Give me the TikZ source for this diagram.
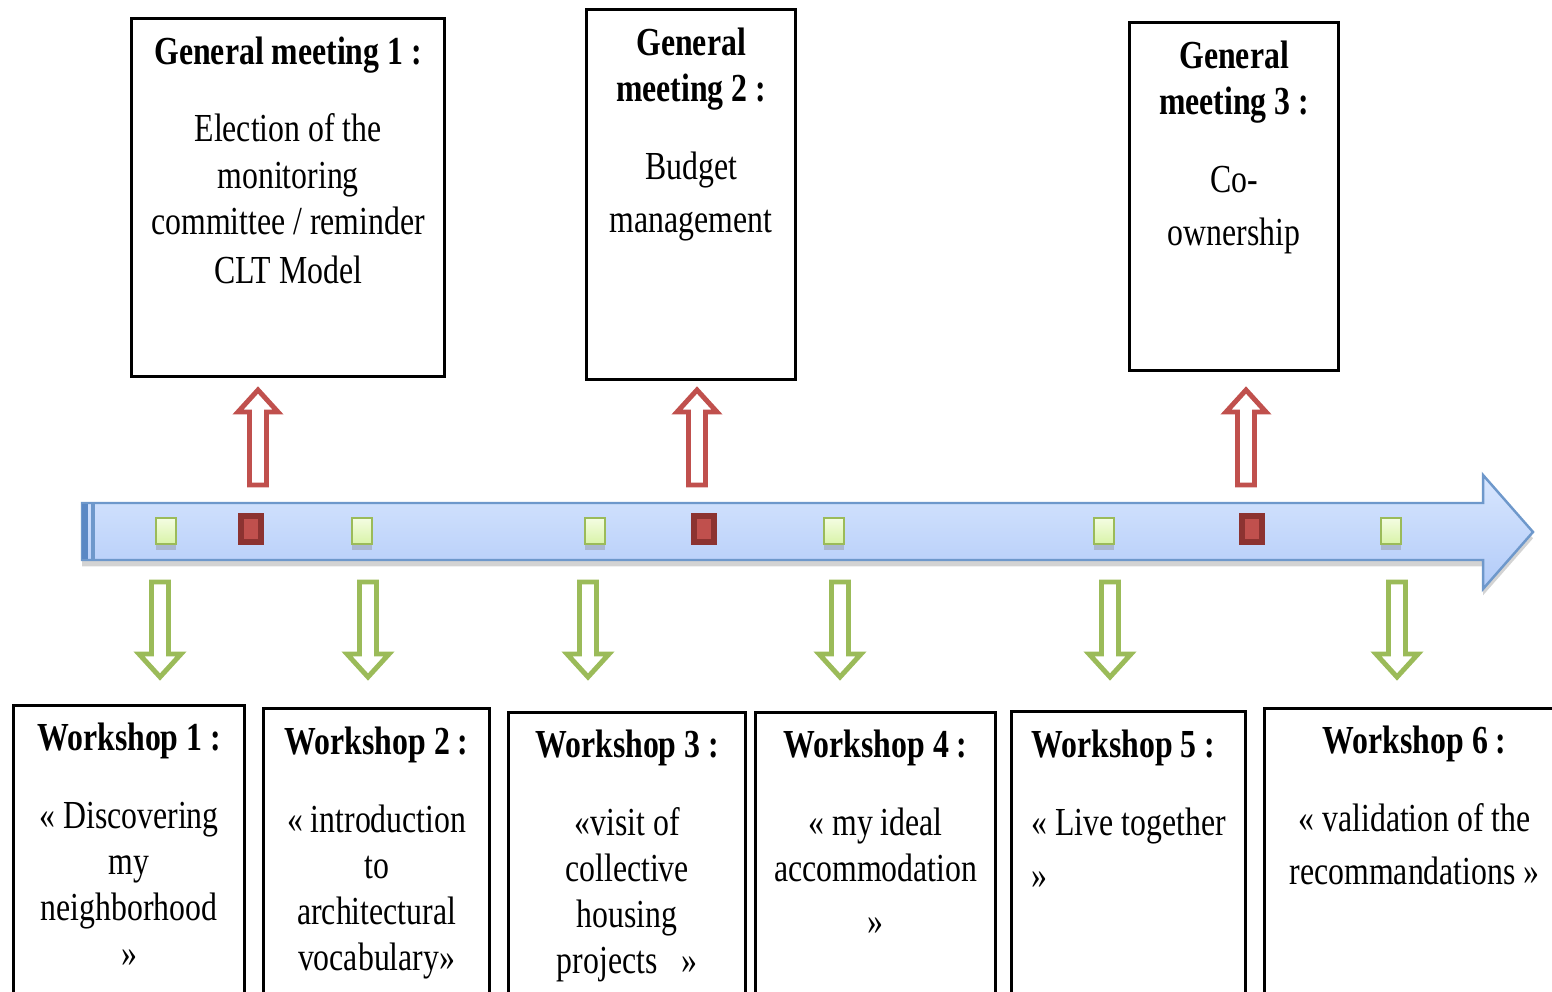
\documentclass[tikz,border=0pt]{standalone}
\usepackage{fontspec}
\setmainfont{Liberation Serif}[FakeStretch=0.8]
\usepackage{xcolor}
\definecolor{cLine}{HTML}{6E98CB}
\definecolor{cLineDark}{HTML}{5A88C4}
\definecolor{cTop}{HTML}{D8E6FE}
\definecolor{cBottom}{HTML}{B2CBF8}
\definecolor{cGM}{HTML}{C0504D}
\definecolor{cGMdark}{HTML}{8C3331}
\definecolor{cWS}{HTML}{9BBB59}
\definecolor{cWStop}{HTML}{F4FDE2}
\definecolor{cWSbot}{HTML}{D9F3A8}
\usepackage{tikz}
\usetikzlibrary{positioning,shadows}
\newcommand\boxfont{\fontsize{11.3pt}{13.1pt}\selectfont}
\tikzset{
  box-frame/.style={draw=black,line width=0.9pt,anchor=north west,inner sep=0pt},
  box-text/.style={align=center,inner sep=0pt,font=\boxfont},
  pin-ws/.style={draw=cWS,line width=0.65pt,top color=cWStop,bottom color=cWSbot,
    minimum width=0.2cm,minimum height=0.26cm,inner sep=0pt,
    drop shadow={shadow xshift=0pt,shadow yshift=-1.6pt,opacity=0.35}},
  pin-gm/.style={draw=cGMdark,line width=1.6pt,fill=cGM,
    minimum width=0.2cm,minimum height=0.26cm,inner sep=0pt},
  hollow-gm/.style={draw=cGM,line width=1.4pt,fill=white},
  hollow-ws/.style={draw=cWS,line width=1.4pt,fill=white},
  timeline/.style={draw=cLine,line width=0.7pt,top color=cTop,bottom color=cBottom,
    drop shadow={shadow xshift=0pt,shadow yshift=-1.8pt,opacity=0.35}},
}

\begin{document}
\begin{tikzpicture}[x=0.01cm,y=-0.01cm]
  \clip (0,0) rectangle (1552,992);

  % timeline
  \draw[timeline] (82,503) -- (1483,503) -- (1483,475) -- (1533,532)
    -- (1483,589) -- (1483,560) -- (82,560) -- cycle;
  \fill[cLineDark] (82,504) rectangle (88,559);
  \fill[cLine] (91,504) rectangle (95,559);

  % markers on the timeline
  \foreach \x [count=\i] in {166,362,595,834,1104,1391}
    \node[pin-ws] (ws-pin\i) at (\x,531) {};
  \foreach \x [count=\i] in {251,704,1252}
    \node[pin-gm] (gm-pin\i) at (\x,529) {};

  % hollow arrows
  \foreach \x in {258,697,1246}
    \draw[hollow-gm] ({\x-8.5},485) -- ({\x-8.5},412) -- ({\x-20},412) -- (\x,390)
      -- ({\x+20},412) -- ({\x+8.5},412) -- ({\x+8.5},485) -- cycle;
  \foreach \x in {160,368,588,840,1110,1397}
    \draw[hollow-ws] ({\x-8.5},582) -- ({\x-8.5},654) -- ({\x-21},654) -- (\x,677)
      -- ({\x+21},654) -- ({\x+8.5},654) -- ({\x+8.5},582) -- cycle;

  % general meetings
  \node[box-frame,minimum width=3.13cm,minimum height=3.58cm] (gm1) at (130,17) {};
  \node[box-text,below=0.19cm of gm1.north] (gm1-txt)
    {\textbf{General meeting 1 :}\\[9pt]Election of the\\monitoring\\committee / reminder\\[1pt]CLT Model};
  \node[box-frame,minimum width=2.09cm,minimum height=3.70cm] (gm2) at (585,8) {};
  \node[box-text,below=0.19cm of gm2.north] (gm2-txt)
    {\textbf{General}\\\textbf{meeting 2 :}\\[9pt]Budget\\[2pt]management};
  \node[box-frame,minimum width=2.09cm,minimum height=3.48cm] (gm3) at (1128,21) {};
  \node[box-text,below=0.19cm of gm3.north] (gm3-txt)
    {\textbf{General}\\\textbf{meeting 3 :}\\[9pt]Co-\\[2pt]ownership};

  % workshops
  \node[box-frame,minimum width=2.31cm,minimum height=3.1cm] (ws1) at (12,704) {};
  \node[box-text,below=0.18cm of ws1.north] (ws1-txt)
    {\textbf{Workshop 1 :}\\[9pt]« Discovering\\my\\neighborhood\\»};
  \node[box-frame,minimum width=2.26cm,minimum height=3.1cm] (ws2) at (262,707) {};
  \node[box-text,below=0.19cm of ws2.north] (ws2-txt)
    {\textbf{Workshop 2 :}\\[9pt]« introduction\\to\\architectural\\vocabulary»};
  \node[box-frame,minimum width=2.37cm,minimum height=3.1cm] (ws3) at (507,711) {};
  \node[box-text,below=0.18cm of ws3.north] (ws3-txt)
    {\textbf{Workshop 3 :}\\[9pt]«visit of\\collective\\housing\\projects\ \ \ »};
  \node[box-frame,minimum width=2.40cm,minimum height=3.1cm] (ws4) at (754,711) {};
  \node[box-text,below=0.18cm of ws4.north] (ws4-txt)
    {\textbf{Workshop 4 :}\\[9pt]« my ideal\\accommodation\\[2pt]»};
  \node[box-frame,minimum width=2.34cm,minimum height=3.1cm] (ws5) at (1010,710) {};
  \node[box-text,align=left,below right=0.19cm and 0.21cm of ws5.north west] (ws5-txt)
    {\textbf{Workshop 5 :}\\[9pt]« Live together\\[2pt]»};
  \node[box-frame,minimum width=3.0cm,minimum height=3.1cm] (ws6) at (1263,707) {};
  \node[box-text,below=0.18cm of ws6.north] (ws6-txt)
    {\textbf{Workshop 6 :}\\[9pt]« validation of the\\[2pt]recommandations »};
\end{tikzpicture}
\end{document}
